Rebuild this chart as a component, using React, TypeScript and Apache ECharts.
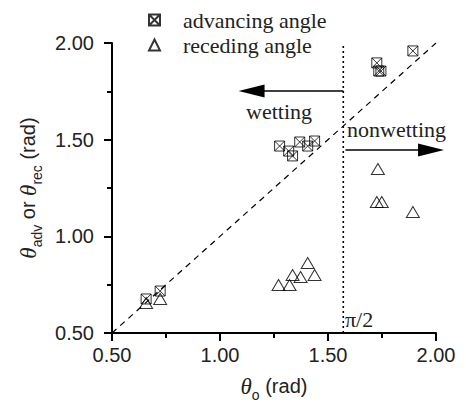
import React, { useEffect, useRef } from "react";
import * as echarts from "echarts";

const advancing: number[][] = [
  [0.658, 0.676], [0.723, 0.717],
  [1.276, 1.467], [1.318, 1.441], [1.336, 1.416], [1.369, 1.488], [1.406, 1.467], [1.438, 1.493],
  [1.726, 1.897], [1.735, 1.855], [1.745, 1.855], [1.893, 1.959],
];
const receding: number[][] = [
  [0.658, 0.655], [0.723, 0.676],
  [1.271, 0.748], [1.322, 0.748], [1.336, 0.8], [1.373, 0.79], [1.406, 0.862], [1.438, 0.8],
  [1.731, 1.348], [1.726, 1.178], [1.749, 1.178], [1.893, 1.126],
];
const diagonal: number[][] = [[0.5, 0.5], [2.0, 2.0]];
const HALF_PI = Math.PI / 2;
const piLine: number[][] = [[HALF_PI, 0.5], [HALF_PI, 2.0]];
const wettingArrow: number[][] = [[HALF_PI, 1.752], [1.146, 1.752]];
const nonwettingArrow: number[][] = [[HALF_PI + 0.01, 1.447], [1.977, 1.447]];
const axisMin = 0.5;
const axisMax = 2.0;
const axisStep = 0.5;

const SQX = "path://M0,0H10V10H0ZM0,0L10,10M10,0L0,10";
const SERIF = "'Liberation Serif', 'Times New Roman', serif";
const SANS = "'Liberation Sans', Arial, sans-serif";

export default function App() {
  const ref = useRef<HTMLDivElement>(null);
  useEffect(() => {
    document.body.style.margin = "0";
    if (!ref.current) return;
    const chart = echarts.init(ref.current, undefined, { renderer: "svg" });
    const axisCommon = {
      type: "value" as const,
      min: axisMin,
      max: axisMax,
      interval: axisStep,
      splitLine: { show: false },
      axisLine: { show: true, lineStyle: { color: "#000", width: 2 } },
      axisTick: { show: true, length: 8, lineStyle: { color: "#000", width: 2 } },
      minorTick: { show: true, splitNumber: 2, length: 5, lineStyle: { color: "#000", width: 2 } },
      axisLabel: {
        formatter: (v: number) => v.toFixed(2),
        fontFamily: SANS,
        fontSize: 20,
        color: "#222",
      },
      nameLocation: "middle" as const,
    };
    const arrowLine = (d: number[][]) => ({
      type: "line",
      data: d,
      symbol: "none",
      silent: true,
      lineStyle: { color: "#000", width: 1.5 },
      markLine: {
        silent: true,
        symbol: ["none", "triangle"],
        symbolSize: [13, 26],
        label: { show: false },
        lineStyle: { color: "#000", width: 0, type: "solid" },
        itemStyle: { color: "#000" },
        data: [[{ coord: d[0] }, { coord: d[1] }]],
      },
    });
    const rich = {
      i: { fontFamily: SERIF, fontStyle: "italic", fontSize: 23, color: "#222", lineHeight: 22, verticalAlign: "top" },
      s: { fontFamily: SANS, fontSize: 14, color: "#222", lineHeight: 14, padding: [13, 0, 0, 0], verticalAlign: "top" },
    };
    chart.setOption({
      animation: false,
      grid: { left: 112, top: 43, width: 324, height: 290 },
      legend: {
        orient: "vertical",
        left: 143,
        top: 4,
        itemGap: 3,
        itemWidth: 11,
        itemHeight: 11,
        data: ["advancing angle", "receding angle"],
        textStyle: { fontFamily: SERIF, fontSize: 22, color: "#222", padding: [0, 0, 0, 18] },
      },
      xAxis: {
        ...axisCommon,
        axisLabel: { ...axisCommon.axisLabel, margin: 12 },
        name: "{i|θ}{s|o} (rad)",
        nameGap: 42,
        nameTextStyle: { fontFamily: SANS, fontSize: 20, color: "#222", rich },
      },
      yAxis: {
        ...axisCommon,
        axisLabel: { ...axisCommon.axisLabel, margin: 18 },
        name: "{i|θ}{s|adv} or {i|θ}{s|rec} (rad)",
        nameGap: 70,
        nameTextStyle: { fontFamily: SANS, fontSize: 20, color: "#222", rich },
      },
      series: [
        {
          type: "line",
          data: diagonal,
          symbol: "none",
          silent: true,
          lineStyle: { color: "#000", width: 1.2, type: [6, 5] },
        },
        {
          type: "line",
          data: piLine,
          symbol: "none",
          silent: true,
          lineStyle: { color: "#000", width: 1.6, type: [2, 3] },
        },
        arrowLine(wettingArrow),
        arrowLine(nonwettingArrow),
        {
          name: "advancing angle",
          type: "scatter",
          data: advancing,
          symbol: SQX,
          symbolSize: 10,
          itemStyle: { color: "rgba(255,255,255,0)", borderColor: "#000", borderWidth: 1 },
        },
        {
          name: "receding angle",
          type: "scatter",
          data: receding,
          symbol: "triangle",
          symbolSize: [13, 11],
          itemStyle: { color: "rgba(255,255,255,0)", borderColor: "#000", borderWidth: 1 },
        },
      ],
      graphic: [
        { type: "text", left: 246, top: 100, style: { text: "wetting", font: `22px ${SERIF}`, fill: "#222" } },
        { type: "text", left: 347, top: 118, style: { text: "nonwetting", font: `22px ${SERIF}`, fill: "#222" } },
        { type: "text", left: 345, top: 308, style: { text: "π/2", font: `22px ${SERIF}`, fill: "#222" } },
      ],
    });
    return () => chart.dispose();
  }, []);
  return <div ref={ref} style={{ width: 466, height: 412 }} />;
}
